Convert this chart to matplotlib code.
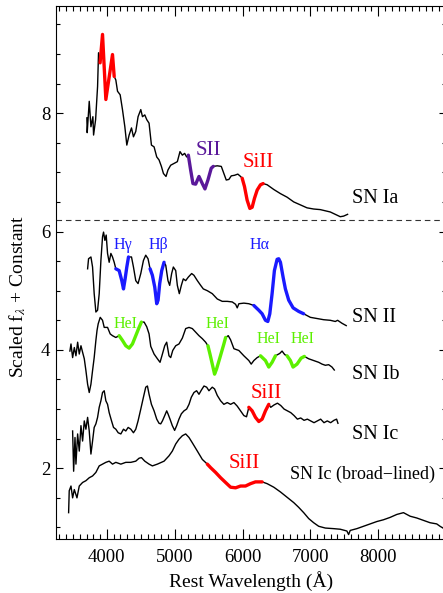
# spectra comparison of SN types
import matplotlib.pyplot as plt
import numpy as np

plt.rcParams['font.family'] = ['Liberation Serif', 'DejaVu Serif']
plt.rcParams['mathtext.fontset'] = 'stix'

# SN Ia
ia_wave = [3705, 3710, 3740, 3765, 3794, 3804, 3834, 3863, 3877, 3900, 3936, 3985, 4083, 4108,
           4132, 4157, 4196, 4230, 4265, 4294, 4328, 4363, 4392, 4426, 4460, 4500, 4525, 4559,
           4588, 4622, 4657, 4696, 4735, 4769, 4804, 4834, 4872, 4901, 4941, 4990, 5039, 5078,
           5113, 5147, 5176, 5201, 5235, 5269, 5309, 5358, 5407, 5446, 5490, 5539, 5569, 5628,
           5687, 5725, 5760, 5799, 5834, 5882, 5931, 5971, 5995, 6029, 6068, 6108, 6142, 6176,
           6216, 6265, 6304, 6363, 6461, 6559, 6657, 6755, 6853, 6951, 7049, 7147, 7294, 7441,
           7490, 7549]
ia_flux = [7.92, 7.67, 8.20, 7.77, 7.94, 7.63, 7.89, 8.45, 9.02, 8.85, 9.33, 8.23, 8.99, 8.62,
           8.56, 8.37, 8.31, 8.06, 7.77, 7.46, 7.63, 7.75, 7.60, 7.69, 7.94, 8.06, 7.94, 7.97,
           7.89, 7.83, 7.46, 7.43, 7.26, 7.21, 7.10, 6.98, 6.93, 7.04, 7.12, 7.15, 7.18, 7.35,
           7.29, 7.32, 7.26, 7.29, 7.04, 6.81, 6.80, 6.93, 6.81, 6.72, 6.87, 7.07, 7.10, 7.11,
           7.10, 6.98, 6.87, 6.88, 6.94, 6.95, 6.97, 6.93, 6.90, 6.76, 6.53, 6.39, 6.41, 6.56,
           6.70, 6.79, 6.81, 6.79, 6.71, 6.64, 6.58, 6.50, 6.45, 6.40, 6.38, 6.37, 6.33, 6.25,
           6.26, 6.29]

# SN II
ii_wave = [3716, 3730, 3765, 3789, 3813, 3838, 3863, 3887, 3912, 3936, 3951, 3971, 3990, 4010,
           4034, 4059, 4083, 4108, 4132, 4181, 4220, 4245, 4269, 4294, 4319, 4363, 4392, 4426,
           4460, 4500, 4539, 4573, 4607, 4637, 4671, 4706, 4735, 4755, 4779, 4809, 4843, 4868,
           4901, 4926, 4955, 4980, 5015, 5039, 5068, 5098, 5127, 5162, 5201, 5250, 5284, 5334,
           5383, 5422, 5481, 5554, 5628, 5701, 5775, 5849, 5898, 5922, 5946, 6020, 6093, 6167,
           6240, 6289, 6338, 6373, 6402, 6436, 6470, 6510, 6534, 6559, 6598, 6632, 6681, 6746,
           6828, 6902, 7000, 7098, 7196, 7294, 7368, 7402, 7466, 7529]
ii_flux = [5.37, 5.54, 5.57, 5.40, 4.95, 4.64, 4.67, 4.95, 5.51, 5.91, 5.99, 5.85, 5.94, 5.63,
           5.48, 5.63, 5.57, 5.48, 5.37, 5.34, 5.17, 5.03, 5.20, 5.40, 5.57, 5.57, 5.40, 5.17,
           5.12, 5.29, 5.51, 5.60, 5.54, 5.37, 5.26, 5.06, 4.78, 4.84, 5.12, 5.34, 5.48, 5.43,
           5.17, 5.09, 5.29, 5.40, 5.34, 5.09, 4.95, 5.09, 5.20, 5.17, 5.23, 5.29, 5.26, 5.17,
           5.09, 5.03, 5.00, 4.95, 4.86, 4.82, 4.82, 4.81, 4.77, 4.71, 4.78, 4.79, 4.78, 4.75,
           4.67, 4.61, 4.50, 4.48, 4.61, 4.95, 5.34, 5.53, 5.54, 5.48, 5.23, 5.03, 4.84, 4.71,
           4.65, 4.61, 4.55, 4.53, 4.51, 4.50, 4.48, 4.50, 4.45, 4.41]

# SN Ib
ib_wave = [3455, 3471, 3495, 3520, 3544, 3569, 3593, 3618, 3642, 3667, 3691, 3716, 3740, 3765,
           3789, 3813, 3838, 3855, 3872, 3902, 3936, 3961, 4010, 4049, 4083, 4132, 4181, 4230,
           4279, 4328, 4377, 4426, 4475, 4509, 4549, 4588, 4622, 4647, 4696, 4745, 4784, 4819,
           4853, 4882, 4916, 4941, 4971, 5015, 5063, 5113, 5162, 5211, 5260, 5309, 5358, 5407,
           5456, 5490, 5520, 5554, 5588, 5618, 5667, 5725, 5751, 5790, 5824, 5873, 5946, 6020,
           6093, 6128, 6167, 6216, 6265, 6338, 6387, 6436, 6485, 6549, 6583, 6622, 6657, 6706,
           6745, 6804, 6863, 6912, 6975, 7049, 7123, 7172, 7221, 7270, 7319, 7353]
ib_flux = [3.98, 4.10, 3.87, 4.04, 3.90, 4.13, 3.93, 4.07, 3.96, 3.85, 3.65, 3.42, 3.28, 3.42,
           3.65, 3.87, 4.16, 4.33, 4.44, 4.55, 4.50, 4.38, 4.38, 4.27, 4.24, 4.21, 4.24, 4.16,
           4.07, 4.03, 4.10, 4.24, 4.38, 4.47, 4.47, 4.39, 4.27, 4.06, 3.93, 3.85, 3.79, 3.93,
           4.07, 4.13, 3.90, 3.87, 3.99, 4.07, 4.10, 4.20, 4.36, 4.38, 4.36, 4.30, 4.24, 4.19,
           4.13, 4.07, 3.93, 3.76, 3.59, 3.68, 3.87, 4.10, 4.21, 4.24, 4.17, 4.02, 3.99, 3.90,
           3.82, 3.76, 3.82, 3.87, 3.90, 3.82, 3.71, 3.79, 3.90, 3.94, 3.98, 3.92, 3.90, 3.82,
           3.71, 3.76, 3.86, 3.89, 3.85, 3.82, 3.79, 3.76, 3.74, 3.75, 3.71, 3.66]

# SN Ic
ic_wave = [3495, 3510, 3530, 3544, 3569, 3593, 3618, 3642, 3667, 3691, 3716, 3740, 3765, 3789,
           3813, 3838, 3863, 3887, 3912, 3936, 3961, 3985, 4010, 4034, 4069, 4098, 4132, 4167,
           4206, 4245, 4279, 4314, 4353, 4392, 4426, 4460, 4500, 4539, 4573, 4598, 4622, 4657,
           4696, 4735, 4769, 4794, 4819, 4853, 4882, 4901, 4931, 4965, 4999, 5029, 5063, 5098,
           5137, 5176, 5211, 5245, 5284, 5323, 5358, 5393, 5432, 5471, 5505, 5554, 5588, 5628,
           5677, 5725, 5775, 5824, 5873, 5922, 5971, 6020, 6059, 6093, 6142, 6191, 6240, 6289,
           6338, 6387, 6416, 6465, 6515, 6564, 6613, 6662, 6711, 6760, 6809, 6858, 6907, 6956,
           7005, 7054, 7103, 7152, 7201, 7250, 7299, 7348, 7387, 7407]
ic_flux = [2.63, 1.95, 2.52, 2.07, 2.58, 2.29, 2.72, 2.46, 2.80, 2.66, 2.86, 2.63, 2.24, 2.46,
           2.69, 2.75, 2.86, 3.03, 3.14, 3.28, 3.31, 3.14, 3.08, 2.94, 2.80, 2.69, 2.66, 2.60,
           2.58, 2.66, 2.63, 2.69, 2.66, 2.60, 2.66, 2.80, 3.00, 3.20, 3.37, 3.39, 3.25, 3.08,
           2.97, 2.83, 2.76, 2.75, 2.80, 2.89, 2.97, 2.92, 2.83, 2.72, 2.64, 2.72, 2.83, 2.92,
           2.97, 3.00, 3.08, 3.20, 3.28, 3.31, 3.25, 3.32, 3.39, 3.37, 3.31, 3.37, 3.34, 3.23,
           3.14, 3.08, 3.11, 3.08, 3.11, 3.05, 2.97, 2.89, 2.87, 3.03, 2.97, 2.86, 2.79, 2.83,
           2.97, 3.08, 3.03, 3.07, 3.10, 3.06, 3.00, 2.97, 2.94, 2.89, 2.83, 2.85, 2.81, 2.83,
           2.80, 2.77, 2.80, 2.83, 2.77, 2.80, 2.77, 2.81, 2.83, 2.76]

# SN Ic broad-lined
bl_wave = [3436, 3445, 3471, 3495, 3520, 3559, 3593, 3642, 3691, 3740, 3789, 3838, 3887, 3936,
           3985, 4034, 4083, 4132, 4206, 4279, 4353, 4426, 4475, 4510, 4559, 4622, 4671, 4745,
           4843, 4916, 4965, 5015, 5063, 5113, 5162, 5211, 5260, 5334, 5407, 5481, 5530, 5603,
           5677, 5750, 5824, 5898, 5971, 6044, 6118, 6191, 6289, 6363, 6461, 6559, 6657, 6755,
           6828, 6902, 6976, 7049, 7123, 7221, 7343, 7441, 7539, 7564, 7588, 7686, 7784, 7882,
           7980, 8078, 8176, 8275, 8373, 8471, 8569, 8667, 8765, 8863, 8912, 8956]
bl_flux = [1.25, 1.62, 1.70, 1.50, 1.64, 1.50, 1.70, 1.76, 1.79, 1.84, 1.87, 1.93, 2.04, 2.07,
           2.10, 2.12, 2.07, 2.10, 2.07, 2.10, 2.10, 2.12, 2.17, 2.18, 2.12, 2.07, 2.04, 2.07,
           2.12, 2.21, 2.29, 2.41, 2.49, 2.55, 2.58, 2.52, 2.43, 2.29, 2.15, 2.07, 2.01, 1.93,
           1.84, 1.76, 1.68, 1.67, 1.70, 1.70, 1.74, 1.77, 1.77, 1.74, 1.68, 1.60, 1.51, 1.42,
           1.34, 1.25, 1.15, 1.08, 1.02, 0.99, 0.98, 0.97, 0.94, 0.88, 0.95, 0.98, 1.02, 1.06,
           1.10, 1.13, 1.17, 1.22, 1.25, 1.19, 1.16, 1.12, 1.08, 1.06, 1.02, 0.99]

RED = '#ff0000'
PURPLE = '#5a189a'
BLUE = '#1a1aff'
GREEN = '#5cf000'

# (wave array, flux array, [(lo, hi, colour), ...])
spectra = [
    (ia_wave, ia_flux, [(3900, 4108, RED), (5201, 5569, PURPLE), (5995, 6304, RED)]),
    (ii_wave, ii_flux, [(4132, 4319, BLUE), (4637, 4843, BLUE), (6167, 6902, BLUE)]),
    (ib_wave, ib_flux, [(4181, 4509, GREEN), (5490, 5751, GREEN), (6265, 6485, GREEN),
                        (6657, 6912, GREEN)]),
    (ic_wave, ic_flux, [(6093, 6387, RED)]),
    (bl_wave, bl_flux, [(5481, 6289, RED)]),
]

fig = plt.figure(figsize=(4.43, 5.93), dpi=100)
ax = fig.add_axes([56 / 443, 54 / 593, 390 / 443, 533 / 593])

for w, f, segs in spectra:
    w = np.array(w)
    f = np.array(f)
    ax.plot(w, f, color='black', lw=1.0)
    for lo, hi, c in segs:
        m = (w >= lo) & (w <= hi)
        ax.plot(w[m], f[m], color=c, lw=2.4, solid_capstyle='round')

ax.axhline(6.2, color='#333333', lw=0.8, dashes=(5, 3.5))

labels = [
    (5303, 7.295, 'SII', PURPLE, 15),
    (6006, 7.098, 'SiII', RED, 15),
    (7611, 6.479, 'SN Ia', 'black', 14.5),
    (4100, 5.706, 'H\u03b3', BLUE, 11.5),
    (4616, 5.706, 'H\u03b2', BLUE, 11.5),
    (6099, 5.706, 'H\u03b1', BLUE, 11.5),
    (7611, 4.478, 'SN II', 'black', 14.5),
    (4100, 4.377, 'HeI', GREEN, 11.5),
    (5451, 4.377, 'HeI', GREEN, 11.5),
    (6202, 4.123, 'HeI', GREEN, 11.5),
    (6703, 4.123, 'HeI', GREEN, 11.5),
    (7611, 3.505, 'SN Ib', 'black', 14.5),
    (6113, 3.194, 'SiII', RED, 15),
    (7611, 2.496, 'SN Ic', 'black', 14.5),
    (5794, 2.01, 'SiII', RED, 15),
    (6703, 1.814, 'SN Ic (broad\u2212lined)', 'black', 13),
]
for x, y, s, c, fs in labels:
    ax.text(x, y, s, color=c, fontsize=fs, ha='left', va='baseline')

ax.set_xlim(3250, 9000)
ax.set_ylim(0.805, 9.81)
ax.set_xticks([4000, 5000, 6000, 7000, 8000])
ax.set_xticks(np.arange(3300, 9000, 100), minor=True)
ax.set_yticks([2, 4, 6, 8])
ax.set_yticks(np.arange(1.0, 9.81, 0.5), minor=True)
ax.tick_params(which='both', direction='in', top=True, right=True, labelsize=13.5, width=0.8)
ax.tick_params(axis='x', which='major', length=7, pad=7)
ax.tick_params(axis='x', which='minor', length=3.5)
ax.tick_params(axis='y', which='major', length=5, pad=4)
ax.tick_params(axis='y', which='minor', length=3)
for s in ax.spines.values():
    s.set_linewidth(0.8)

fig.text(251 / 443, 1 - 581 / 593, 'Rest Wavelength (\u00c5)', ha='center', va='center', fontsize=14)
fig.text(18 / 443, 1 - 297 / 593, r'Scaled f$_\lambda$ + Constant', ha='center', va='center',
         rotation=90, fontsize=14)

fig.savefig('out.png', dpi=100)
